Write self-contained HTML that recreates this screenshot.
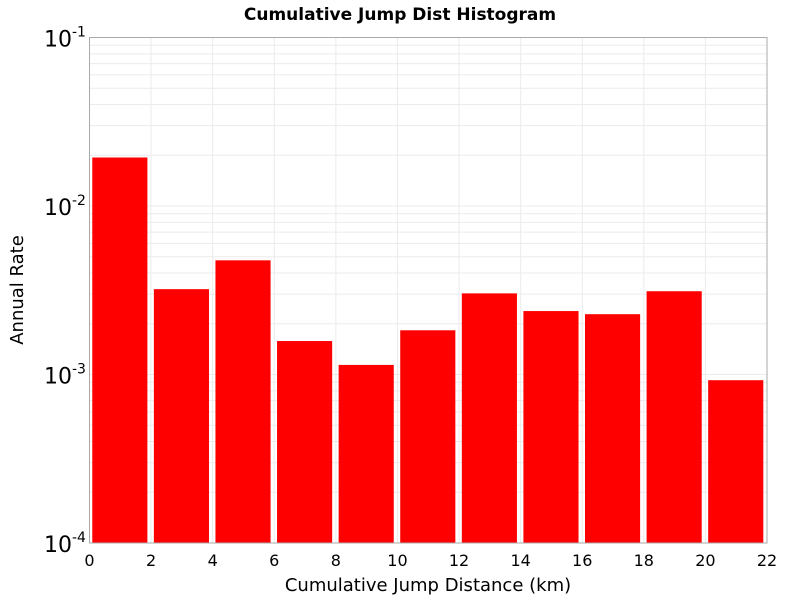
<!DOCTYPE html>
<html><head><meta charset="utf-8"><style>
body{margin:0;background:#fff;font-family:"DejaVu Sans","Liberation Sans",sans-serif}
</style></head><body>
<svg id="chart" width="800" height="600" xmlns="http://www.w3.org/2000/svg">
<rect width="800" height="600" fill="#fff"/>
<text x="400" y="20" text-anchor="middle" font-weight="bold" font-size="17" font-family="DejaVu Sans, sans-serif">Cumulative Jump Dist Histogram</text>
<g id="grid"></g><g id="bars"></g><g id="axes"></g>
<text x="428" y="591" text-anchor="middle" font-size="18" font-family="DejaVu Sans, sans-serif">Cumulative Jump Distance (km)</text>
<text transform="translate(23,290) rotate(-90)" text-anchor="middle" font-size="18" font-family="DejaVu Sans, sans-serif">Annual Rate</text>
</svg>
<script>
const binStarts=[0,2,4,6,8,10,12,14,16,18,20];
const rates=[0.0194,0.00321,0.00476,0.00158,0.00114,0.00183,0.00303,0.00238,0.00228,0.00312,0.000925];
const xTicks=[0,2,4,6,8,10,12,14,16,18,20,22];
const yDecades=[-4,-3,-2,-1];
const NS="http://www.w3.org/2000/svg";
const L=89.5,R=767,T=37.5,B=543;
const xs=v=>L+(v-0)/22*(R-L);
const ys=v=>B-(Math.log10(v)+4)/3*(B-T);
function mk(tag,at,parent){const e=document.createElementNS(NS,tag);for(const k in at)e.setAttribute(k,at[k]);parent.appendChild(e);return e;}
const grid=document.getElementById('grid'),bars=document.getElementById('bars'),axes=document.getElementById('axes');
for(let d=-4;d<-1;d++)for(let m=1;m<10;m++){const y=ys(m*Math.pow(10,d));
const g=mk('line',{x1:L,x2:R,y1:y,y2:y,stroke:'#ebebeb','stroke-width':1},grid);

}
xTicks.forEach(t=>{const x=xs(t);
const g=mk('line',{x1:x,x2:x,y1:T,y2:B,stroke:'#ebebeb','stroke-width':1},grid);


const tx=mk('text',{x:x,y:566,'text-anchor':'middle','font-size':16},axes);tx.textContent=t;

});
binStarts.forEach((s,i)=>{const x0=xs(s+0.09),x1=xs(s+1.88),y=ys(rates[i]);
const r=mk('rect',{x:x0,y:y,width:x1-x0,height:B-y,fill:'#ff0000'},bars);

});
mk('rect',{x:L,y:T,width:R-L,height:B-T,fill:'none',stroke:'#aaaaaa','stroke-width':1},axes);
yDecades.forEach(d=>{const y=ys(Math.pow(10,d));
const t=mk('text',{x:72,y:y+9,'text-anchor':'end','font-size':22},axes);t.textContent='10';


const s=mk('text',{x:72,y:y-1,'text-anchor':'start','font-size':14},axes);s.textContent=String(d);

});
</script>
</body></html>
